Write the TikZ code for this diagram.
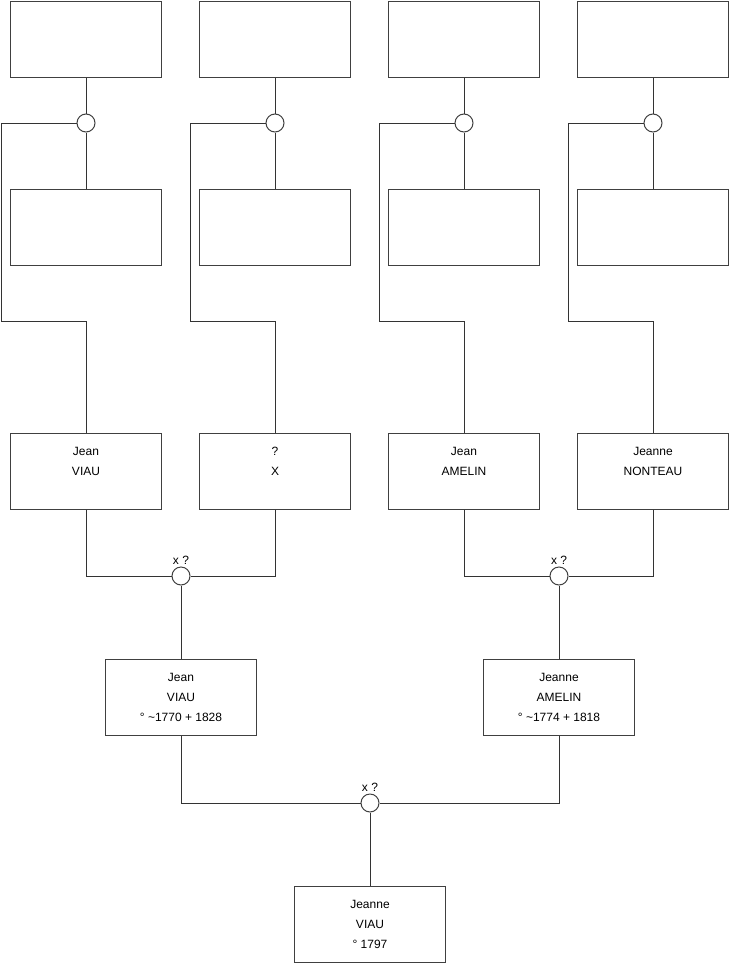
\documentclass[tikz,border=0pt]{standalone}
\usepackage{fontspec}
\setmainfont{Liberation Sans}
\usepackage{tikz}
\usetikzlibrary{positioning}

\begin{document}
\begin{tikzpicture}[
    x=0.75pt, y=-0.75pt,
    box/.style={draw=black!75, line width=0.75pt, minimum width=113.25pt, minimum height=57pt, inner sep=0pt, align=center, font=\fontsize{9}{15}\selectfont},
    knot/.style={draw=black!75, line width=0.75pt, circle, minimum size=13.5pt, inner sep=0pt},
    tag/.style={font=\fontsize{9}{11}\selectfont, inner sep=1pt},
    wire/.style={draw=black!80, line width=0.75pt}
]
\useasboundingbox (0,0) rectangle (740,975);

% grandparents
\node[box] (gp1) at (86,471) {Jean\\VIAU\\\mbox{}};
\node[box] (gp2) at (275,471) {?\\X\\\mbox{}};
\node[box] (gp3) at (464,471) {Jean\\AMELIN\\\mbox{}};
\node[box] (gp4) at (653,471) {Jeanne\\NONTEAU\\\mbox{}};

% unknown great-grandparents
\foreach \i/\x/\l in {1/86/1, 2/275/190, 3/464/379, 4/653/568} {
  \node[box] (top\i) at (\x,39) {};
  \node[knot] (c\i) at (\x,123) {};
  \node[box] (mid\i) at (\x,227) {};
  \draw[wire] (top\i) -- (c\i) -- (mid\i);
  \draw[wire] (c\i.west) -| (\l,321) -| (gp\i);
}

% parents
\node[knot, label={[tag]above:x ?}] (k1) at (181,576) {};
\node[knot, label={[tag]above:x ?}] (k2) at (559,576) {};
\node[box] (ch1) at (181,697.5) {Jean\\VIAU\\° \textasciitilde1770 + 1828};
\node[box] (ch2) at (559,697.5) {Jeanne\\AMELIN\\° \textasciitilde1774 + 1818};

% child
\node[knot, label={[tag]above:x ?}] (k3) at (370,803) {};
\node[box] (me) at (370,924.5) {Jeanne\\VIAU\\° 1797};

% links
\draw[wire] (gp1) |- (k1);
\draw[wire] (gp2) |- (k1);
\draw[wire] (gp3) |- (k2);
\draw[wire] (gp4) |- (k2);
\draw[wire] (k1) -- (ch1);
\draw[wire] (k2) -- (ch2);
\draw[wire] (ch1) |- (k3);
\draw[wire] (ch2) |- (k3);
\draw[wire] (k3) -- (me);

\end{tikzpicture}
\end{document}
